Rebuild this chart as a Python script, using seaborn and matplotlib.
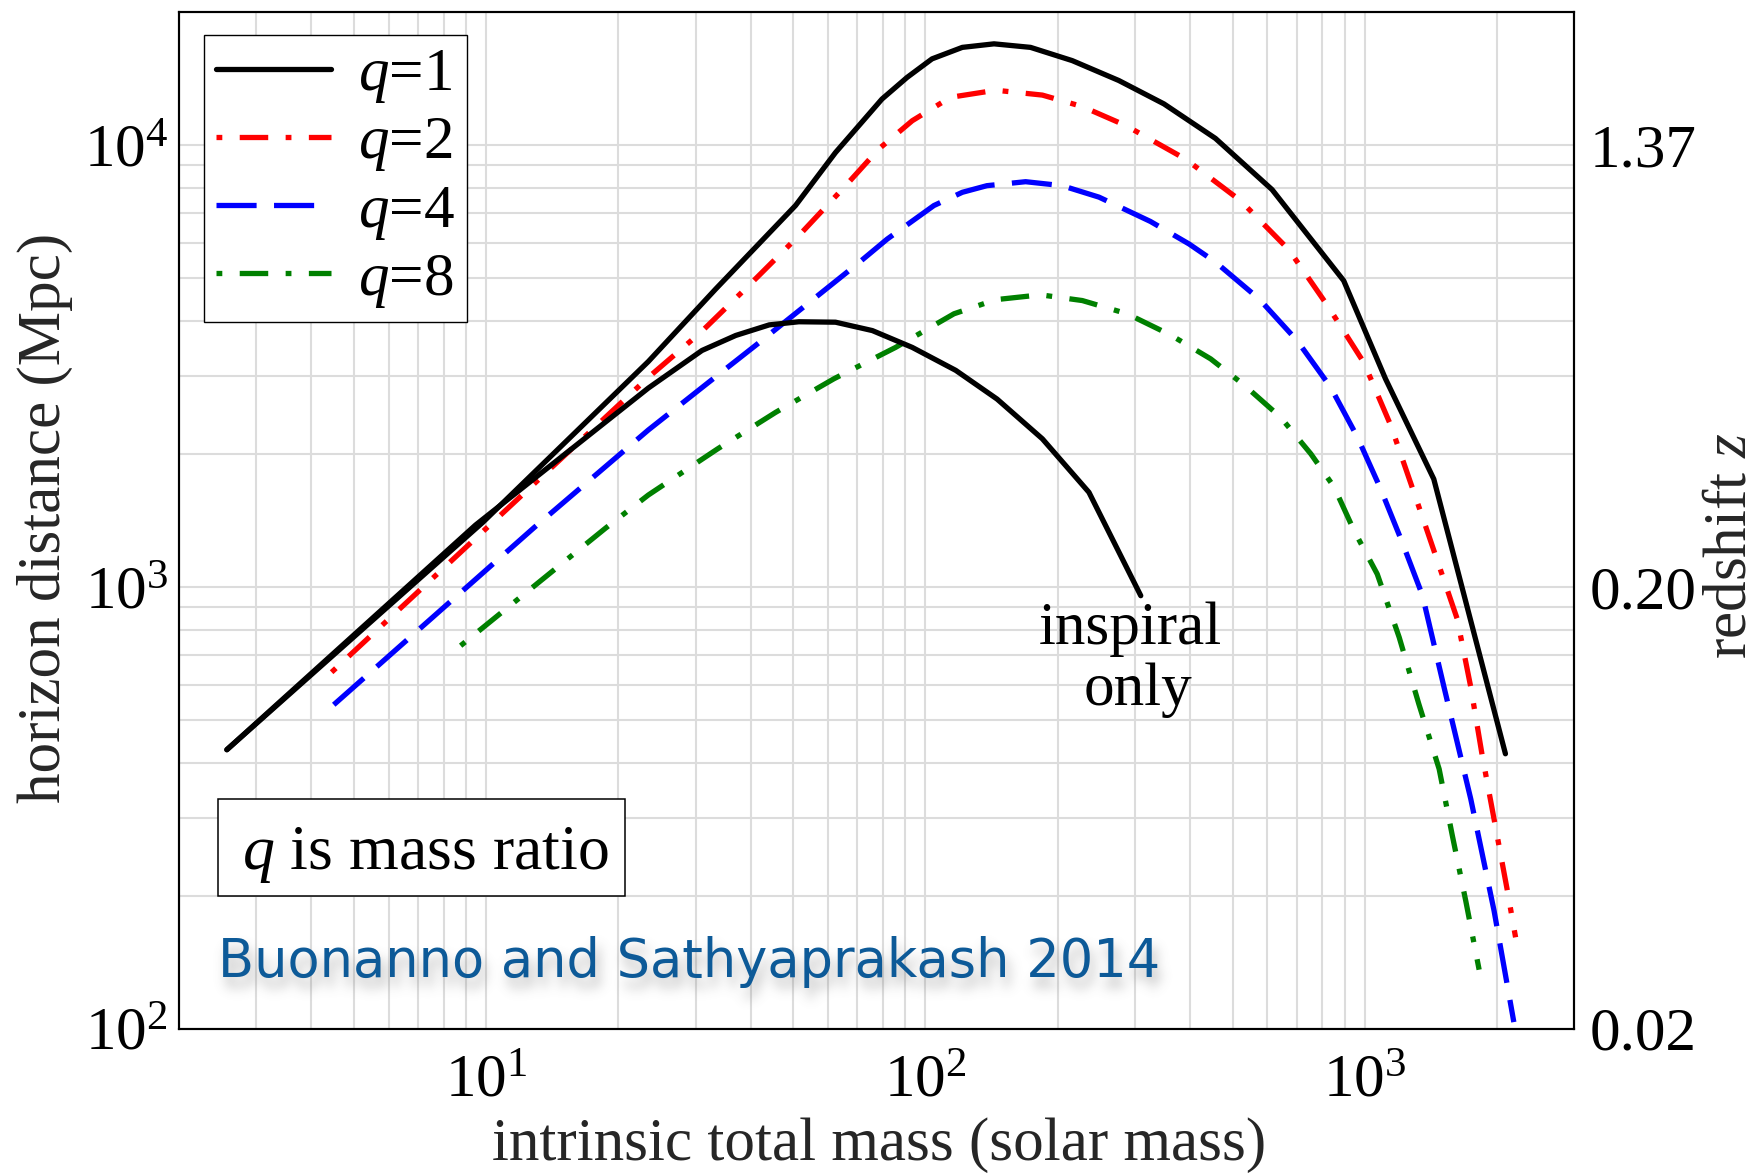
import numpy as np
import matplotlib
matplotlib.use("Agg")
import matplotlib.pyplot as plt
import seaborn as sns
from matplotlib.patches import Rectangle
from matplotlib.ticker import LogLocator, NullFormatter, NullLocator

# Horizon distance (Mpc) versus intrinsic total mass (solar masses)
mass_q1 = [2.57, 9.83, 23.4, 33.3, 50.6, 62.4, 79.6, 90.8, 103.5, 121.3, 143.2, 173.4,
           215.8, 275.4, 349, 457, 615, 895, 1114, 1435, 2089]
dist_q1 = [428, 1400, 3236, 4721, 7295, 9616, 12706, 14223, 15668, 16634, 16943, 16634,
           15524, 13996, 12388, 10351, 7925, 4932, 2958, 1754, 419]

mass_inspiral = [2.57, 9.46, 23.4, 31.0, 37.0, 44.1, 51.5, 62.4, 75.7, 93.3, 117.2, 145.5,
                 184.5, 235.5, 309]
dist_inspiral = [428, 1380, 2818, 3428, 3707, 3917, 3981, 3972, 3802, 3483, 3090, 2661,
                 2163, 1637, 955]

mass_q2 = [4.45, 9.83, 23.4, 30.8, 40.0, 51.5, 65.8, 78.3, 93.3, 114.0, 144.5, 184.5,
           227.5, 285.8, 390.9, 521.2, 671.4, 820.4, 995.4, 1146, 1365, 1622, 1742, 1849,
           2109, 2203]
dist_q2 = [641, 1334, 2979, 3767, 4853, 6237, 8091, 9795, 11350, 12823, 13305, 12972,
           12218, 11066, 9290, 7482, 5794, 4345, 3214, 2317, 1400, 847, 593, 416,
           206, 161]

mass_q4 = [4.50, 12.85, 23.4, 32.1, 41.0, 55.7, 70.0, 81.8, 104.5, 121.3, 138.0, 169.0,
           204.6, 248.3, 325.1, 398.1, 457.1, 574.1, 701.5, 835.6, 961.6, 1086, 1216,
           1352, 1514, 1742, 1968, 2183]
dist_q4 = [541, 1361, 2265, 2904, 3516, 4487, 5383, 6124, 7295, 7816, 8091, 8260,
           8091, 7621, 6714, 5970, 5433, 4487, 3606, 2831, 2183, 1667, 1262,
           957, 593, 331, 185, 103.5]

mass_q8 = [8.75, 18.7, 23.4, 33.6, 45.6, 61.9, 85.5, 116.1, 144.5, 182.8, 227.5, 287.7,
           361.4, 445.7, 530.9, 642.7, 753.4, 851.1, 944.1, 1067, 1197, 1327, 1476,
           1581, 1698, 1820]
dist_q8 = [736, 1358, 1614, 2051, 2483, 2958, 3483, 4150, 4467, 4581, 4446, 4150,
           3715, 3281, 2864, 2421, 2000, 1683, 1343, 1069, 769, 543, 387,
           274, 194, 136]

series_labels = ["$q$=1", "$q$=2", "$q$=4", "$q$=8"]
mass_ticks = [1e1, 1e2, 1e3]
distance_ticks = [1e2, 1e3, 1e4]
redshift_labels = ["0.02", "0.20", "1.37"]


class BlurShadow:
    """agg filter: soft gray shadow shifted by (dx, dy) pixels."""

    def __init__(self, sigma, alpha, dx, dy, color=(0.4, 0.4, 0.4)):
        self.sigma, self.alpha, self.dx, self.dy, self.color = sigma, alpha, dx, dy, color

    def __call__(self, im, dpi):
        pad = int(3 * self.sigma) + max(abs(self.dx), abs(self.dy)) + 2
        src = np.pad(im, [(pad, pad), (pad, pad), (0, 0)])
        r = np.arange(-int(3 * self.sigma), int(3 * self.sigma) + 1)
        k = np.exp(-0.5 * (r / self.sigma) ** 2)
        k /= k.sum()
        a = src[..., 3]
        a = np.apply_along_axis(lambda v: np.convolve(v, k, mode="same"), 0, a)
        a = np.apply_along_axis(lambda v: np.convolve(v, k, mode="same"), 1, a)
        a = np.roll(np.roll(a, self.dx, axis=1), self.dy, axis=0)
        out = np.empty_like(src)
        out[..., 0], out[..., 1], out[..., 2] = self.color
        out[..., 3] = np.clip(a * self.alpha, 0, 1)
        return out, -pad, -pad


sns.set_theme(style="whitegrid")
plt.rcParams.update({
    "font.family": ["Liberation Serif", "DejaVu Serif"],
    "mathtext.fontset": "custom",
    "mathtext.rm": "Liberation Serif",
    "mathtext.it": "Liberation Serif:italic",
    "mathtext.bf": "Liberation Serif:bold",
    "text.color": "black",
    "xtick.color": "black",
    "ytick.color": "black",
})

FS = 44
LW = 3.8
dashdot = (0, (1.1, 3.3, 5.4, 3.3))
dashed = (0, (7.6, 3.3))

fig = plt.figure(figsize=(17.56, 11.74), dpi=100)
ax = fig.add_axes([0.10194, 0.12376, 0.79470, 0.86601])

curves = [
    (mass_q1, dist_q1, "black", "-"),
    (mass_q2, dist_q2, "#ff0000", dashdot),
    (mass_q4, dist_q4, "#0000ff", dashed),
    (mass_q8, dist_q8, "#008000", dashdot),
]
handles = []
for m, d, c, ls in curves:
    sns.lineplot(x=m, y=d, ax=ax, color=c, linewidth=LW, linestyle=ls,
                 estimator=None, sort=False, legend=False, zorder=3)
    handles.append(ax.get_lines()[-1])

# inspiral-only horizon for equal masses
sns.lineplot(x=mass_inspiral, y=dist_inspiral, ax=ax, color="black", linewidth=LW,
             linestyle="-", estimator=None, sort=False, legend=False, zorder=3)

ax.set_xscale("log")
ax.set_yscale("log")
ax.set_xlim(2, 3000)
ax.set_ylim(100, 20000)
ax.set_xticks(mass_ticks, labels=[r"$10^{%d}$" % round(np.log10(t)) for t in mass_ticks])
ax.set_yticks(distance_ticks, labels=[r"$10^{%d}$" % round(np.log10(t)) for t in distance_ticks])
for axis in (ax.xaxis, ax.yaxis):
    axis.set_minor_locator(LogLocator(base=10, subs=np.arange(2, 10), numticks=30))
    axis.set_minor_formatter(NullFormatter())
ax.grid(True, which="both", color="#dcdcdc", linewidth=1.5)
ax.set_axisbelow(True)
ax.tick_params(which="both", length=0, labelsize=FS)
ax.tick_params(axis="x", pad=18)
ax.tick_params(axis="y", pad=8)
for s in ax.spines.values():
    s.set_visible(True)
    s.set_color("black")
    s.set_linewidth(1.5)

ax.set_xlabel("intrinsic total mass (solar mass)", fontsize=FS, va="center")
ax.xaxis.set_label_coords(0.5016, -0.1144)
ax.set_ylabel("horizon distance (Mpc)", fontsize=FS, va="center")
ax.yaxis.set_label_coords(-0.096, 0.5023)

# redshift scale on the right
ax2 = ax.twinx()
ax2.set_yscale("log")
ax2.set_ylim(ax.get_ylim())
ax2.set_yticks(distance_ticks, labels=redshift_labels)
ax2.yaxis.set_minor_locator(NullLocator())
ax2.grid(False)
ax2.tick_params(which="both", length=0, labelsize=FS, pad=11)
for s in ax2.spines.values():
    s.set_color("black")
    s.set_linewidth(1.5)
ax2.set_ylabel("redshift $z$", fontsize=FS, rotation=90, va="center")
ax2.yaxis.set_label_coords(1.112, 0.4748)

leg = ax.legend(handles, series_labels, loc="upper left", bbox_to_anchor=(0.0181, 0.9771),
                borderaxespad=0, fontsize=FS, handlelength=1.87, handletextpad=0.44,
                labelspacing=0.17, borderpad=0.2, frameon=True, fancybox=False,
                framealpha=1, edgecolor="black")
leg.get_frame().set_linewidth(1.0)
leg.set_zorder(6)

ax.text(0.6815, 0.3787, "inspiral", transform=ax.transAxes, fontsize=FS,
        ha="center", va="baseline", zorder=5)
ax.text(0.6872, 0.3184, "only", transform=ax.transAxes, fontsize=FS,
        ha="center", va="baseline", zorder=5)

ax.add_patch(Rectangle((0.02795, 0.1305), 0.2917, 0.0954, transform=ax.transAxes,
                       facecolor="white", edgecolor="black", linewidth=1.1, zorder=5))
ax.text(0.0451, 0.1574, "$q$ is mass ratio", transform=ax.transAxes, fontsize=46,
        ha="left", va="baseline", zorder=6)

credit = "Buonanno and Sathyaprakash 2014"
shadow = ax.text(0.02795, 0.0509, credit, transform=ax.transAxes, fontsize=37.9,
                 family="DejaVu Sans", color="0.35", ha="left", va="baseline", zorder=4)
shadow.set_agg_filter(BlurShadow(sigma=6, alpha=0.45, dx=4, dy=10))
ax.text(0.02795, 0.0509, credit, transform=ax.transAxes, fontsize=37.9,
        family="DejaVu Sans", color="#0d5a98", ha="left", va="baseline", zorder=5)

fig.savefig("out.png", dpi=100)
